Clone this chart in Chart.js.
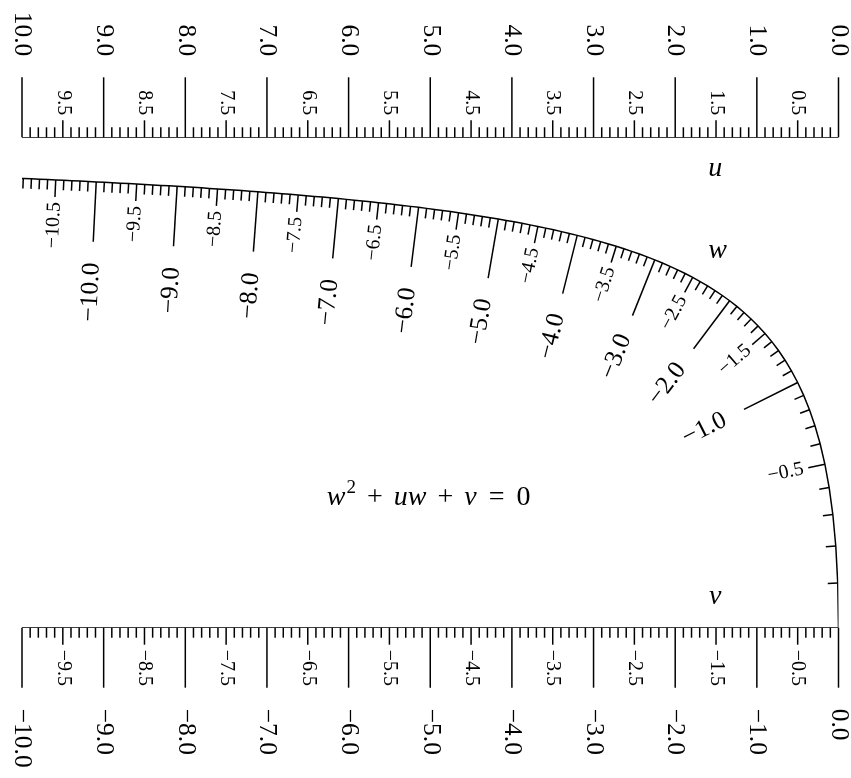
<!doctype html>
<html lang="en">
<head>
<meta charset="UTF-8">
<title>Nomogram w² + uw + v = 0</title>
<script src="https://cdn.jsdelivr.net/npm/chart.js"></script>
<style>
    body { margin: 0; background: #fff; }
    #wrap { width: 851px; height: 778px; }
</style>
</head>
<body>
<div id="wrap"><canvas id="nomo" width="851" height="778"></canvas></div>
<script>
    // scale values of the three nomogram scales
    const uMajor = [0, 1, 2, 3, 4, 5, 6, 7, 8, 9, 10];
    const uHalf = [0.5, 1.5, 2.5, 3.5, 4.5, 5.5, 6.5, 7.5, 8.5, 9.5];
    const vMajor = [0, -1, -2, -3, -4, -5, -6, -7, -8, -9, -10];
    const vHalf = [-0.5, -1.5, -2.5, -3.5, -4.5, -5.5, -6.5, -7.5, -8.5, -9.5];
    const wMajor = [-1, -2, -3, -4, -5, -6, -7, -8, -9, -10];
    const wHalf = [-0.5, -1.5, -2.5, -3.5, -4.5, -5.5, -6.5, -7.5, -8.5, -9.5, -10.5];
    const minorStep = 0.1;
    const uRange = [0, 10];
    const vRange = [0, -10];

    // w sits where the line u..v crosses: x = w²/(1-w) (u units), t = 1/(1-w)
    const wToX = w => w * w / (1 - w);
    const wToT = w => 1 / (1 - w);
    // last w still inside the u range: w² + U w - U = 0
    const wEnd = (-uRange[1] - Math.sqrt(uRange[1] * uRange[1] + 4 * uRange[1])) / 2;

    function steps(from, to, step) {
        const out = [];
        const n = Math.floor(Math.abs(to - from) / step + 1e-9);
        const sign = to < from ? -1 : 1;
        for (let i = 0; i <= n; i++) out.push(Math.round((from + sign * i * step) * 10) / 10);
        return out;
    }
    const isMinorOnly = v => Math.abs(v * 2 - Math.round(v * 2)) > 1e-6;

    const uMinor = steps(uRange[0], uRange[1], minorStep).filter(isMinorOnly);
    const vMinor = steps(vRange[0], vRange[1], minorStep).filter(isMinorOnly);
    const wValues = steps(0, wEnd, minorStep);
    const wMinor = wValues.filter(isMinorOnly);

    const uLine = [{ x: uRange[0], y: 0 }, { x: uRange[1], y: 0 }];
    const vLine = [{ x: -vRange[0], y: 1 }, { x: -vRange[1], y: 1 }];
    const wCurve = wValues.concat([wEnd]).map(w => ({ x: wToX(w), y: wToT(w) }));

    const SERIF = '"Liberation Serif", "DejaVu Serif", serif';
    const bigFont = '25.5px ' + SERIF;
    const smallFont = '20px ' + SERIF;
    const LONG = 60, MID = 17, SHORT = 10;
    const BIG_GAP = 21, SMALL_GAP = 5;
    const LW = 1.5;

    const fmt = v => (v < 0 ? '\u2212' : '') + Math.abs(v).toFixed(1);

    function seg(ctx, x1, y1, x2, y2) {
        ctx.beginPath();
        ctx.moveTo(x1, y1);
        ctx.lineTo(x2, y2);
        ctx.stroke();
    }
    function rotText(ctx, txt, x, y, angle, align, font) {
        ctx.save();
        ctx.translate(x, y);
        ctx.rotate(angle);
        ctx.font = font;
        ctx.textAlign = align;
        ctx.textBaseline = 'middle';
        ctx.fillText(txt, 0, 0);
        ctx.restore();
    }

    const nomoPlugin = {
        id: 'nomoTicks',
        afterDatasetsDraw(chart) {
            const ctx = chart.ctx;
            const xs = chart.scales.x, ys = chart.scales.y;
            ctx.save();
            ctx.strokeStyle = '#000';
            ctx.fillStyle = '#000';
            ctx.lineWidth = LW;

            // u scale (top), ticks upward
            const yu = ys.getPixelForValue(0);
            uMinor.forEach(u => { const px = xs.getPixelForValue(u); seg(ctx, px, yu, px, yu - SHORT); });
            uHalf.forEach(u => {
                const px = xs.getPixelForValue(u);
                seg(ctx, px, yu, px, yu - MID);
                rotText(ctx, fmt(u), px, yu - MID - SMALL_GAP, Math.PI / 2, 'right', smallFont);
            });
            uMajor.forEach(u => {
                const px = xs.getPixelForValue(u);
                seg(ctx, px, yu, px, yu - LONG);
                rotText(ctx, fmt(u), px, yu - LONG - BIG_GAP, Math.PI / 2, 'right', bigFont);
            });

            // v scale (bottom), ticks downward
            const yv = ys.getPixelForValue(1);
            vMinor.forEach(v => { const px = xs.getPixelForValue(-v); seg(ctx, px, yv, px, yv + SHORT); });
            vHalf.forEach(v => {
                const px = xs.getPixelForValue(-v);
                seg(ctx, px, yv, px, yv + MID);
                rotText(ctx, fmt(v), px, yv + MID + SMALL_GAP, Math.PI / 2, 'left', smallFont);
            });
            vMajor.forEach(v => {
                const px = xs.getPixelForValue(-v);
                seg(ctx, px, yv, px, yv + LONG);
                rotText(ctx, fmt(v), px, yv + LONG + BIG_GAP, Math.PI / 2, 'left', bigFont);
            });

            // w curve, ticks on the inner side
            const wPt = w => ({ x: xs.getPixelForValue(wToX(w)), y: ys.getPixelForValue(wToT(w)) });
            const wNorm = w => {
                const a = wPt(w - 1e-4), b = wPt(w + 1e-4);
                let tx = b.x - a.x, ty = b.y - a.y;
                const m = Math.hypot(tx, ty);
                let nx = -ty / m, ny = tx / m;
                if (-nx + ny < 0) { nx = -nx; ny = -ny; }
                return { nx, ny };
            };
            const wTick = (w, len, gap, font) => {
                const p = wPt(w), n = wNorm(w);
                seg(ctx, p.x, p.y, p.x + n.nx * len, p.y + n.ny * len);
                if (font) {
                    const d = len + gap;
                    rotText(ctx, fmt(w), p.x + n.nx * d, p.y + n.ny * d, Math.atan2(-n.ny, -n.nx), 'right', font);
                }
            };
            wMinor.forEach(w => wTick(w, SHORT));
            wHalf.forEach(w => wTick(w, MID, SMALL_GAP, smallFont));
            wMajor.forEach(w => wTick(w, LONG, BIG_GAP, bigFont));

            // scale names
            ctx.font = 'italic 28px ' + SERIF;
            ctx.textAlign = 'center';
            ctx.textBaseline = 'alphabetic';
            ctx.fillText('u', xs.getPixelForValue(1.51), ys.getPixelForValue(0.079));
            ctx.fillText('w', xs.getPixelForValue(1.48), ys.getPixelForValue(0.246));
            ctx.fillText('v', xs.getPixelForValue(1.51), ys.getPixelForValue(0.952));

            // equation, piece by piece: [text, font, raise, gap after]
            const it = 'italic 28px ' + SERIF, rm = '28px ' + SERIF;
            const parts = [
                ['w', it, 0, 1],
                ['2', '19px ' + SERIF, -12, 11],
                ['+', rm, 0, 11],
                ['uw', it, 0, 11],
                ['+', rm, 0, 11],
                ['v', it, 0, 12],
                ['=', rm, 0, 12],
                ['0', rm, 0, 0]
            ];
            let total = 0;
            parts.forEach(p => { ctx.font = p[1]; total += ctx.measureText(p[0]).width + p[3]; });
            let ex = xs.getPixelForValue(5.02) - total / 2;
            const ey = ys.getPixelForValue(0.75);
            ctx.textAlign = 'left';
            parts.forEach(p => {
                ctx.font = p[1];
                ctx.fillText(p[0], ex, ey + p[2]);
                ex += ctx.measureText(p[0]).width + p[3];
            });
            ctx.restore();
        }
    };

    const lineStyle = { borderColor: '#000', borderWidth: LW, pointRadius: 0, showLine: true, fill: false, tension: 0 };

    new Chart(document.getElementById('nomo'), {
        type: 'scatter',
        data: {
            datasets: [
                Object.assign({ label: 'u', data: uLine }, lineStyle),
                Object.assign({ label: 'v', data: vLine }, lineStyle),
                Object.assign({ label: 'w', data: wCurve }, lineStyle)
            ]
        },
        options: {
            responsive: false,
            animation: false,
            devicePixelRatio: 1,
            layout: { padding: { left: 22, right: 12.5, top: 137.3, bottom: 150.3 } },
            plugins: { legend: { display: false }, tooltip: { enabled: false } },
            scales: {
                x: { type: 'linear', display: false, reverse: true, min: uRange[0], max: uRange[1] },
                y: { type: 'linear', display: false, reverse: true, min: 0, max: 1 }
            }
        },
        plugins: [nomoPlugin]
    });
</script>
</body>
</html>
